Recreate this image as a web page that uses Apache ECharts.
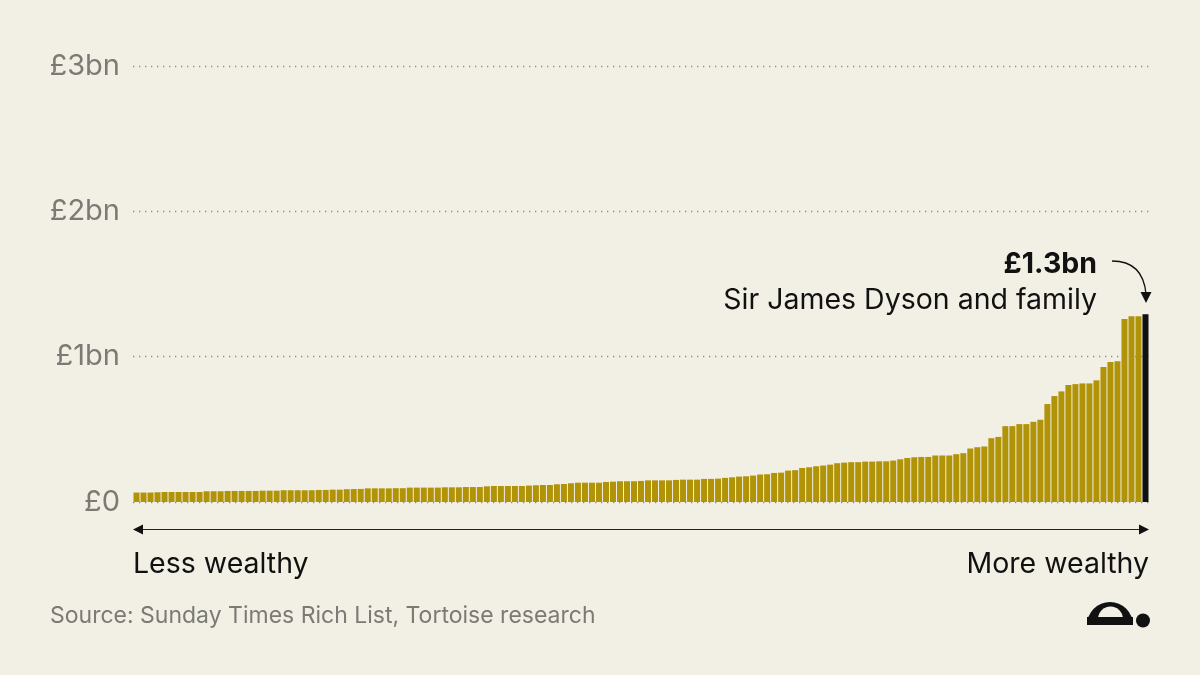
<!DOCTYPE html>
<html>
<head>
<meta charset="utf-8">
<script src="https://cdn.jsdelivr.net/npm/echarts@6/dist/echarts.min.js"></script>
<style>
html,body{margin:0;padding:0;background:#f2f0e5;}
#c{width:1200px;height:675px;}
</style>
</head>
<body>
<div id="c"></div>
<script>
// Net wealth of individuals/families, ranked from less to more wealthy (£bn)
var wealthValues = [
0.065,0.065,0.065,0.067,0.069,0.069,0.069,0.069,0.069,0.069,
0.074,0.074,0.074,0.076,0.076,0.076,0.076,0.076,0.078,0.078,
0.078,0.081,0.081,0.081,0.081,0.081,0.083,0.083,0.085,0.085,
0.088,0.089,0.090,0.094,0.094,0.094,0.094,0.095,0.095,0.099,
0.099,0.099,0.099,0.099,0.101,0.101,0.101,0.103,0.103,0.103,
0.108,0.110,0.110,0.110,0.110,0.110,0.113,0.115,0.117,0.117,
0.122,
0.124,0.129,0.133,0.133,0.133,0.133,0.138,0.140,0.143,0.143,
0.143,0.145,0.149,0.149,0.149,0.149,0.152,0.154,0.154,0.154,
0.159,0.159,0.161,0.166,0.170,0.175,0.177,0.182,0.189,0.191,
0.200,0.202,
0.216,0.219,0.234,0.239,0.246,0.251,0.257,0.267,0.271,0.274,
0.274,0.278,0.278,0.280,0.280,0.285,0.294,0.303,0.308,0.310,
0.310,0.320,0.320,0.320,0.329,0.336,0.368,0.377,0.382,0.439,
0.448,0.522,0.522,0.536,0.536,0.552,0.566,0.674,0.729,0.761,
0.805,0.811,0.816,0.816,0.837,0.929,0.963,0.968,1.260,1.278,
1.278,1.292
];
var categories = wealthValues.map(function(v, i){ return 'Rank ' + (i + 1); });
var highlightIndex = wealthValues.length - 1; // Sir James Dyson and family
var yTicks = [0, 1, 2, 3];
var yTickLabels = ['£0', '£1bn', '£2bn', '£3bn'];
var annotationValue = '£1.3bn';
var annotationName = 'Sir James Dyson and family';
var leftLabel = 'Less wealthy';
var rightLabel = 'More wealthy';
var sourceText = 'Source: Sunday Times Rich List, Tortoise research';

var FONT = 'Inter, "Noto Sans", sans-serif';
var chart = echarts.init(document.getElementById('c'), null, {renderer: 'canvas'});

var barData = wealthValues.map(function(v, i){
  return i === highlightIndex ? {value: v, itemStyle: {color: '#111111'}} : v;
});

chart.setOption({
  backgroundColor: '#f2f0e5',
  animation: false,
  grid: {left: 133, right: 51, top: 66, bottom: 173},
  xAxis: {
    type: 'category',
    data: categories,
    axisLine: {show: false},
    axisTick: {show: false},
    axisLabel: {show: false},
    splitLine: {show: false}
  },
  yAxis: {
    type: 'value',
    min: yTicks[0],
    max: yTicks[yTicks.length - 1],
    interval: 1,
    axisLine: {show: false},
    axisTick: {show: false},
    axisLabel: {
      margin: 13,
      color: '#7b7a74',
      fontSize: 29,
      fontFamily: FONT,
      formatter: function(v){ var k = yTicks.indexOf(v); return k >= 0 ? yTickLabels[k] : ''; }
    },
    splitLine: {show: true, lineStyle: {color: '#8e8c84', width: 1.3, type: [1.3, 4.7]}}
  },
  series: [{
    type: 'bar',
    data: barData,
    barCategoryGap: '14%',
    itemStyle: {color: '#b19308'},
    z: 3
  }],
  graphic: [
    {type: 'text', z: 10, style: {text: annotationValue, x: 1097, y: 264, textAlign: 'right', textVerticalAlign: 'middle', font: 'bold 28.5px ' + FONT, fill: '#111111'}},
    {type: 'text', z: 10, style: {text: annotationName, x: 1097, y: 300, textAlign: 'right', textVerticalAlign: 'middle', font: '28.5px ' + FONT, fill: '#111111'}},
    {type: 'bezierCurve', z: 10, shape: {x1: 1112, y1: 261, cpx1: 1143, cpy1: 261, x2: 1146, y2: 294}, style: {stroke: '#111111', lineWidth: 1.3, fill: null}},
    {type: 'polygon', z: 10, shape: {points: [[1140.5, 292], [1151.5, 292], [1146, 303]]}, style: {fill: '#111111'}},
    {type: 'line', z: 10, shape: {x1: 140, y1: 529.5, x2: 1142, y2: 529.5}, style: {stroke: '#222222', lineWidth: 1.2}},
    {type: 'polygon', z: 10, shape: {points: [[133, 529.5], [143, 524.5], [143, 534.5]]}, style: {fill: '#111111'}},
    {type: 'polygon', z: 10, shape: {points: [[1149, 529.5], [1139, 524.5], [1139, 534.5]]}, style: {fill: '#111111'}},
    {type: 'text', z: 10, style: {text: leftLabel, x: 133, y: 564, textAlign: 'left', textVerticalAlign: 'middle', font: '28.5px ' + FONT, fill: '#111111'}},
    {type: 'text', z: 10, style: {text: rightLabel, x: 1149, y: 564, textAlign: 'right', textVerticalAlign: 'middle', font: '28.5px ' + FONT, fill: '#111111'}},
    {type: 'text', z: 10, style: {text: sourceText, x: 50, y: 616, textAlign: 'left', textVerticalAlign: 'middle', font: '23px ' + FONT, fill: '#7b7a74'}},
    {type: 'sector', z: 10, shape: {cx: 1110, cy: 625, r: 23, r0: 0, startAngle: Math.PI, endAngle: 2 * Math.PI}, style: {fill: '#111111'}},
    {type: 'sector', z: 11, shape: {cx: 1110.5, cy: 619, r: 12.5, r0: 0, startAngle: Math.PI, endAngle: 2 * Math.PI}, style: {fill: '#f2f0e5'}},
    {type: 'rect', z: 12, shape: {x: 1087, y: 617, width: 46, height: 8}, style: {fill: '#111111'}},
    {type: 'circle', z: 10, shape: {cx: 1143, cy: 620.5, r: 7}, style: {fill: '#111111'}}
  ]
});
</script>
</body>
</html>
